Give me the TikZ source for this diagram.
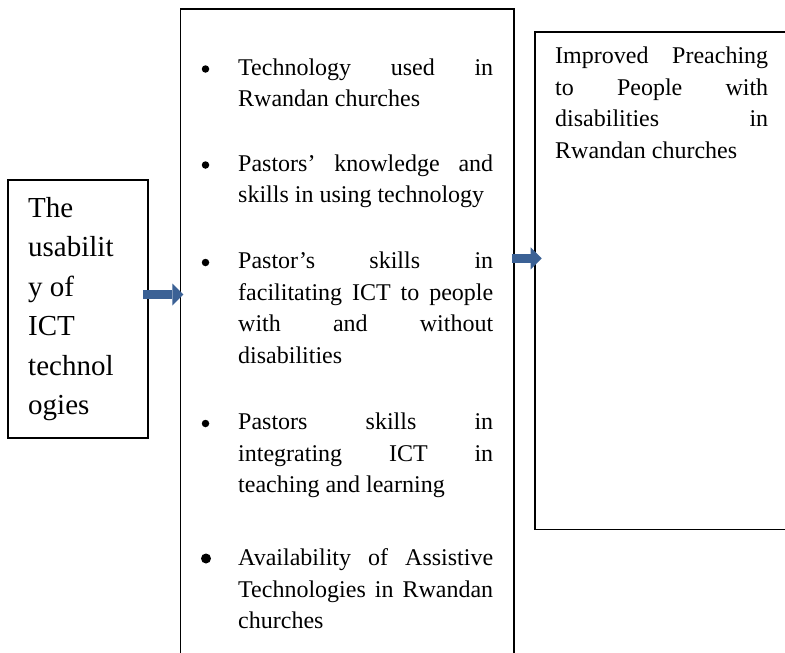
\documentclass[tikz,border=0pt]{standalone}
\usepackage{fontspec}
\setmainfont{Liberation Serif}
\usetikzlibrary{arrows.meta}

\definecolor{flowblue}{RGB}{59,97,149}

% block of text whose first baseline sits at the node's base anchor
\newcommand\textblock[2]{\parbox[t]{#1}{#2}}

\tikzset{
  frame/.style={draw=black, line width=1.8pt, rectangle, inner sep=0pt, anchor=north west},
  flowarrow/.style={draw=flowblue, line width=9.5pt,
    -{Triangle[length=11pt,width=22pt,line width=0pt]}},
  dot/.style={circle, fill=black, draw=none, inner sep=0pt, minimum size=#1},
  body/.style={anchor=base west, inner sep=0pt, font=\fontsize{24}{31.5}\selectfont},
  bigbody/.style={anchor=base west, inner sep=0pt, font=\fontsize{29}{39.5}\selectfont},
}

\begin{document}
\begin{tikzpicture}[x=1pt,y=-1pt]
  \useasboundingbox (0,0) rectangle (785,653);
  \clip (0,0) rectangle (785,653);

  % the three frames
  \node[frame, minimum width=139.4pt, minimum height=257.4pt] (ictbox)  at (7.3,179.3) {};
  \node[frame, minimum width=333.5pt, minimum height=700pt]   (factors) at (179.5,8) {};
  \node[frame, minimum width=300pt,   minimum height=497.8pt] (outcome) at (534,30.7) {};

  % left frame: the input
  \node[bigbody] (ictlabel) at (28,217)
    {\textblock{110pt}{The\\usabilit\\y of\\ICT\\technol\\ogies}};

  % middle frame: bulleted factors
  \node[dot=7.5pt] (b1) at (205.5,69) {};
  \node[body] (item1) at (238,75)
    {\textblock{255pt}{Technology\hfill used\hfill in\\Rwandan churches}};

  \node[dot=7.5pt] (b2) at (205.5,165) {};
  \node[body] (item2) at (238,171)
    {\textblock{255pt}{Pastors’\hfill knowledge\hfill and\\skills in using technology}};

  \node[dot=7.5pt] (b3) at (205.5,262.5) {};
  \node[body] (item3) at (238,268.5)
    {\textblock{255pt}{Pastor’s\hfill skills\hfill in\\facilitating\hfill ICT\hfill to\hfill people\\with\hfill and\hfill without\\disabilities}};

  \node[dot=7.5pt] (b4) at (205.5,423.5) {};
  \node[body] (item4) at (238,429.5)
    {\textblock{255pt}{Pastors\hfill skills\hfill in\\integrating\hfill ICT\hfill in\\teaching and learning}};

  \node[dot=10pt] (b5) at (206,558.5) {};
  \node[body] (item5) at (238,565.5)
    {\textblock{255pt}{Availability\hfill of\hfill Assistive\\Technologies\hfill in\hfill Rwandan\\churches}};

  % right frame: the outcome
  \node[body, font=\fontsize{24}{31.7}\selectfont] (result) at (555,63.3)
    {\textblock{213pt}{Improved\hfill Preaching\\to\hfill People\hfill with\\disabilities\hfill in\\Rwandan churches}};

  % block arrows between the frames
  \coordinate (a1s) at (143,294.5);
  \coordinate (a1e) at (183.3,294.5);
  \coordinate (a2s) at (511.7,258.3);
  \coordinate (a2e) at (541.7,258.3);
  \draw[flowarrow] (a1s) -- (a1e);
  \draw[flowarrow] (a2s) -- (a2e);
\end{tikzpicture}
\end{document}
